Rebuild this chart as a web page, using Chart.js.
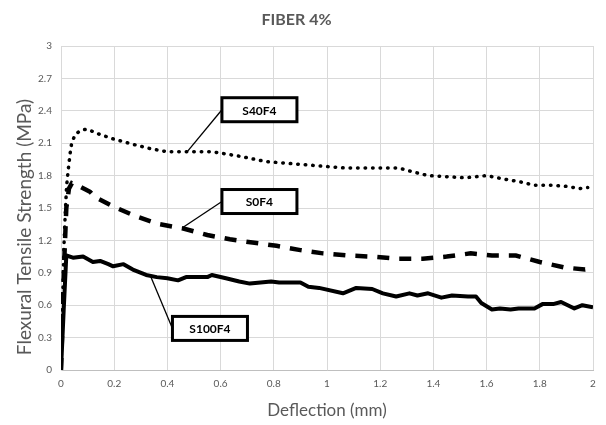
<!DOCTYPE html>
<html>
<head>
<meta charset="utf-8">
<script src="https://cdn.jsdelivr.net/npm/chart.js@4"></script>
<style>
  html, body { margin: 0; padding: 0; background: #fff; }
  #wrap { width: 606px; height: 425px; }
</style>
</head>
<body>
<div id="wrap"><canvas id="fiber-chart"></canvas></div>
<script>
// deflection (mm) / flexural tensile strength (MPa)
const s40Deflection = [0, 0.006, 0.011, 0.015, 0.018, 0.021, 0.027, 0.034, 0.04, 0.053, 0.075, 0.098, 0.147, 0.196, 0.27, 0.335, 0.4, 0.47, 0.57, 0.67, 0.77, 0.87, 0.97, 1.07, 1.17, 1.27, 1.33, 1.38, 1.45, 1.52, 1.6, 1.66, 1.73, 1.78, 1.85, 1.9, 1.95, 1.98];
const s40Strength   = [0, 0.6, 1.14, 1.39, 1.55, 1.7, 1.85, 2.0, 2.1, 2.18, 2.22, 2.23, 2.18, 2.14, 2.09, 2.05, 2.02, 2.02, 2.02, 1.98, 1.93, 1.91, 1.89, 1.87, 1.87, 1.87, 1.83, 1.80, 1.79, 1.78, 1.80, 1.77, 1.74, 1.71, 1.71, 1.70, 1.68, 1.69];

const s0Deflection = [0, 0.006, 0.012, 0.02, 0.03, 0.041, 0.07, 0.109, 0.128, 0.2, 0.285, 0.37, 0.46, 0.55, 0.635, 0.72, 0.81, 0.9, 0.985, 1.08, 1.17, 1.27, 1.36, 1.45, 1.54, 1.62, 1.71, 1.8, 1.89, 1.97, 2.0];
const s0Strength   = [0, 0.5, 1.0, 1.5, 1.68, 1.73, 1.70, 1.65, 1.60, 1.51, 1.42, 1.35, 1.31, 1.25, 1.21, 1.18, 1.15, 1.11, 1.08, 1.06, 1.05, 1.03, 1.03, 1.05, 1.08, 1.06, 1.06, 1.0, 0.95, 0.93, 0.94];

const s100Deflection = [0, 0.01, 0.02, 0.045, 0.083, 0.12, 0.147, 0.178, 0.196, 0.235, 0.27, 0.32, 0.36, 0.4, 0.44, 0.47, 0.55, 0.567, 0.62, 0.67, 0.71, 0.79, 0.82, 0.9, 0.93, 0.97, 1.06, 1.11, 1.17, 1.21, 1.26, 1.31, 1.34, 1.38, 1.43, 1.47, 1.53, 1.56, 1.58, 1.62, 1.65, 1.69, 1.72, 1.78, 1.81, 1.85, 1.88, 1.93, 1.96, 2.0];
const s100Strength   = [0, 0.55, 1.06, 1.04, 1.05, 1.0, 1.01, 0.98, 0.96, 0.98, 0.93, 0.88, 0.86, 0.85, 0.83, 0.86, 0.86, 0.88, 0.85, 0.82, 0.80, 0.82, 0.81, 0.81, 0.77, 0.76, 0.71, 0.76, 0.75, 0.71, 0.68, 0.71, 0.69, 0.71, 0.67, 0.69, 0.68, 0.68, 0.62, 0.56, 0.57, 0.56, 0.57, 0.57, 0.61, 0.61, 0.63, 0.57, 0.6, 0.58];

const seriesNames = ['S40F4', 'S0F4', 'S100F4'];

// callout boxes: box centre and leader tip, in data units
const calloutBoxX = [0.746, 0.746, 0.56];
const calloutBoxY = [2.41, 1.56, 0.385];
const calloutTipX = [0.474, 0.455, 0.338];
const calloutTipY = [2.02, 1.315, 0.86];

const toPoints = (xs, ys) => xs.map((x, i) => ({ x: x, y: ys[i] }));
const fmt = v => String(+Number(v).toFixed(1));
const FONT = 'Lato, "Open Sans", sans-serif';
const GREY = '#595959';

const calloutPlugin = {
    id: 'callouts',
    afterDatasetsDraw(chart) {
        const ctx = chart.ctx;
        const xs = chart.scales.x, ys = chart.scales.y;
        const w = 75, h = 24;
        ctx.save();
        seriesNames.forEach((name, i) => {
            const bx = xs.getPixelForValue(calloutBoxX[i]);
            const by = ys.getPixelForValue(calloutBoxY[i]);
            const tx = xs.getPixelForValue(calloutTipX[i]);
            const ty = ys.getPixelForValue(calloutTipY[i]);
            ctx.strokeStyle = '#000';
            ctx.lineWidth = 1.3;
            ctx.beginPath();
            ctx.moveTo(bx - w / 2, by);
            ctx.lineTo(tx, ty);
            ctx.stroke();
            ctx.fillStyle = '#fff';
            ctx.fillRect(bx - w / 2, by - h / 2, w, h);
            ctx.lineWidth = 3;
            ctx.strokeRect(bx - w / 2, by - h / 2, w, h);
            ctx.fillStyle = '#000';
            ctx.font = 'bold 12px ' + FONT;
            ctx.textAlign = 'center';
            ctx.textBaseline = 'middle';
            ctx.fillText(name, bx, by + 1);
        });
        ctx.restore();
    }
};

// y title sits a little below the plot centre in the original, so draw it by hand
const yTitlePlugin = {
    id: 'yTitle',
    afterDraw(chart) {
        const ctx = chart.ctx;
        const area = chart.chartArea;
        ctx.save();
        ctx.translate(25, (area.top + area.bottom) / 2 + 19);
        ctx.rotate(-Math.PI / 2);
        ctx.fillStyle = GREY;
        ctx.font = '19px ' + FONT;
        ctx.textAlign = 'center';
        ctx.textBaseline = 'middle';
        ctx.fillText('Flexural Tensile Strength (MPa)', 0, 0);
        ctx.restore();
    }
};

const fiberCtx = document.getElementById('fiber-chart').getContext('2d');

const fiberChart = new Chart(fiberCtx, {
    type: 'line',
    data: {
        datasets: [{
            label: seriesNames[0],
            data: toPoints(s40Deflection, s40Strength),
            borderColor: '#000',
            borderWidth: 3.5,
            borderDash: [0.5, 7],
            borderCapStyle: 'round',
            pointRadius: 0,
            tension: 0
        }, {
            label: seriesNames[1],
            data: toPoints(s0Deflection, s0Strength),
            borderColor: '#000',
            borderWidth: 4.5,
            borderDash: [12, 10],
            borderCapStyle: 'butt',
            pointRadius: 0,
            tension: 0
        }, {
            label: seriesNames[2],
            data: toPoints(s100Deflection, s100Strength),
            borderColor: '#000',
            borderWidth: 4,
            borderJoinStyle: 'round',
            pointRadius: 0,
            tension: 0
        }]
    },
    options: {
        responsive: true,
        maintainAspectRatio: false,
        animation: false,
        layout: { padding: { left: 0, right: 13, top: 0, bottom: 0 } },
        plugins: {
            legend: { display: false },
            tooltip: { enabled: false },
            title: {
                display: true,
                text: 'FIBER 4%',
                color: GREY,
                font: { family: FONT, size: 16, weight: 'bold', lineHeight: 1.2 },
                padding: { top: 10, bottom: 16.8 }
            }
        },
        scales: {
            x: {
                type: 'linear',
                min: 0,
                max: 2,
                grid: { color: '#d9d9d9', drawTicks: false },
                border: { color: '#bfbfbf' },
                ticks: { stepSize: 0.2, padding: 8, color: GREY, font: { family: FONT, size: 10 }, callback: fmt },
                title: { display: true, text: 'Deflection (mm)', color: GREY, font: { family: FONT, size: 17 }, padding: { top: 9 } },
                afterFit(scale) { scale.height = 55; }
            },
            y: {
                min: 0,
                max: 3,
                grid: { color: '#d9d9d9', drawTicks: false },
                border: { color: '#d9d9d9' },
                ticks: { stepSize: 0.3, padding: 9, color: GREY, font: { family: FONT, size: 10 }, callback: fmt },
                afterFit(scale) { scale.width = 61; }
            }
        }
    },
    plugins: [calloutPlugin, yTitlePlugin]
});
</script>
</body>
</html>
